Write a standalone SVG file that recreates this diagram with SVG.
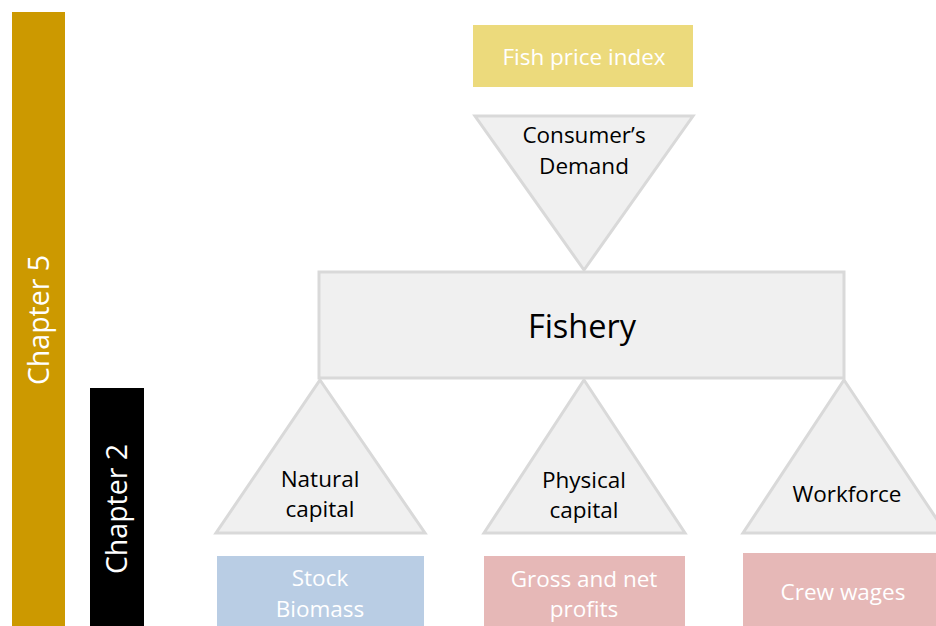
<svg xmlns="http://www.w3.org/2000/svg" width="936" height="626" viewBox="0 0 936 626">
<style>
.tri{fill:#f0f0f0;stroke:#d9d9d9;stroke-width:3;stroke-linejoin:miter}
.t{font-family:"Open Sans","Liberation Sans",sans-serif;text-anchor:middle}
.dk{fill:#000000;font-size:22.5px}
.wt{fill:#ffffff;font-size:22.5px}
.ch{fill:#ffffff;font-size:28.5px}
</style>
<rect width="936" height="626" fill="#ffffff"/>
<g id="chapter5">
<rect x="12" y="12" width="53" height="614" fill="#cc9900"/>
<text class="t ch" transform="translate(49,320) rotate(-90)">Chapter 5</text>
</g>
<g id="chapter2">
<rect x="90" y="388" width="54" height="238" fill="#000000"/>
<text class="t ch" transform="translate(127,509) rotate(-90)">Chapter 2</text>
</g>
<g id="fish-price-index">
<rect x="473" y="25" width="220" height="62" fill="#ecda7c"/>
<text class="t wt" x="584" y="65">Fish price index</text>
</g>
<g id="consumers-demand">
<polygon class="tri" points="475,116 693,116 584,270"/>
<text class="t dk" x="584" y="143">Consumer’s</text>
<text class="t dk" x="584" y="174">Demand</text>
</g>
<g id="fishery">
<rect x="319" y="272" width="525" height="106" fill="#f0f0f0" stroke="#d9d9d9" stroke-width="3"/>
<text class="t" x="582" y="338" font-size="32.5" fill="#000000">Fishery</text>
</g>
<g id="natural-capital">
<polygon class="tri" points="320,380 425,533 216,533"/>
<text class="t dk" x="320" y="487">Natural</text>
<text class="t dk" x="320" y="517">capital</text>
</g>
<g id="physical-capital">
<polygon class="tri" points="584,380 685,533 484,533"/>
<text class="t dk" x="584" y="488">Physical</text>
<text class="t dk" x="584" y="518">capital</text>
</g>
<g id="workforce">
<polygon class="tri" points="844,380 946,533 743,533"/>
<text class="t dk" x="847" y="502">Workforce</text>
</g>
<g id="stock-biomass">
<rect x="217" y="556" width="207" height="72" fill="#b9cde4"/>
<text class="t wt" x="320" y="586">Stock</text>
<text class="t wt" x="320" y="617">Biomass</text>
</g>
<g id="gross-net-profits">
<rect x="484" y="556" width="201" height="72" fill="#e6b8b7"/>
<text class="t wt" x="584" y="587">Gross and net</text>
<text class="t wt" x="584" y="617">profits</text>
</g>
<g id="crew-wages">
<rect x="743" y="553" width="203" height="75" fill="#e6b8b7"/>
<text class="t wt" x="843" y="600">Crew wages</text>
</g>
<g id="connectors"/>
</svg>
